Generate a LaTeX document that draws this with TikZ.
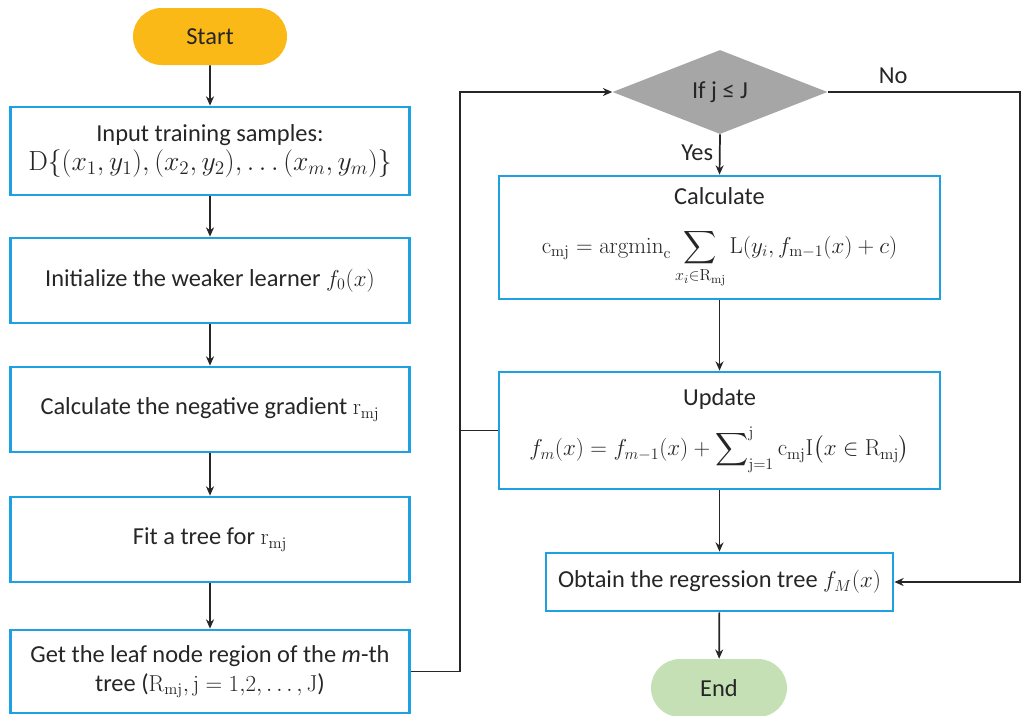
\documentclass[tikz,border=0pt]{standalone}
\usepackage{amsmath}
\usepackage[no-math]{fontspec}
\setmainfont{Carlito}
\usetikzlibrary{shapes.geometric,shapes.misc,arrows.meta}
\definecolor{startc}{HTML}{FBB917}
\definecolor{endc}{HTML}{C5E0B4}
\definecolor{decgray}{HTML}{A6A6A6}
\definecolor{boxblue}{HTML}{1DA1E2}
\definecolor{linec}{HTML}{262626}
\begin{document}
\begin{tikzpicture}[x=0.75pt,y=-0.75pt,
  every node/.style={font=\fontsize{18.3}{22}\selectfont, text=linec},
  box/.style={draw=boxblue, line width=2pt, fill=white, rectangle, inner sep=0pt, align=center},
  term/.style={rounded rectangle, inner sep=0pt, draw=none},
  dec/.style={diamond, fill=decgray, inner sep=0pt},
  arr/.style={-{Stealth[length=7pt,width=6pt]}, line width=1.3pt, draw=linec},
  ln/.style={line width=1.3pt, draw=linec}]
\useasboundingbox (0,0) rectangle (1023,715);
% left column
\node[term, fill=startc, minimum width={154*0.75pt}, minimum height={57*0.75pt}] (start) at (210,36.5) {Start};
\node[box, minimum width={399*0.75pt}, minimum height={88*0.75pt}] (input) at (210,151)
  {Input training samples:\\ {\fontsize{19.6}{22}\selectfont$\mathrm{D}\{(x_1,y_1),(x_2,y_2),\ldots(x_m,y_m)\}$}};
\node[box, minimum width={399*0.75pt}, minimum height={85*0.75pt}] (init) at (210,280.5)
  {Initialize the weaker learner $f_0(x)$};
\node[box, minimum width={399*0.75pt}, minimum height={85*0.75pt}] (neg) at (210,409.5)
  {Calculate the negative gradient $\mathrm{r}_{\mathrm{mj}}$};
\node[box, minimum width={399*0.75pt}, minimum height={85*0.75pt}] (fit) at (210,539.5)
  {Fit a tree for $\mathrm{r}_{\mathrm{mj}}$};
\node[box, minimum width={399*0.75pt}, minimum height={83*0.75pt}] (get) at (210,671.5)
  {Get the leaf node region of the \textit{m}-th\\ tree ($\mathrm{R}_{\mathrm{mj}}, \mathrm{j} = 1{,}2, \ldots, \mathrm{J}$)};
% right column
\node[dec, minimum width={215*0.75pt}, minimum height={84*0.75pt}] (dec) at (720,92) {If j ≤ J};
\node[box, minimum width={441*0.75pt}, minimum height={123*0.75pt}] (calc) at (719.5,237.5)
  {Calculate\\[15pt] {\fontsize{18.8}{22}\selectfont$\displaystyle \mathrm{c}_{\mathrm{mj}} = \mathrm{argmin}_{\mathrm{c}} \sum_{x_i\in \mathrm{R}_{\mathrm{mj}}} \mathrm{L}(y_i, f_{\mathrm{m}-1}(x)+c)$}};
\node[box, minimum width={441*0.75pt}, minimum height={117*0.75pt}] (upd) at (719.5,430.5)
  {Update\\[12pt] $\displaystyle f_m(x) = f_{m-1}(x) + \sum\nolimits_{\mathrm{j}=1}^{\mathrm{j}} \mathrm{c}_{\mathrm{mj}}\mathrm{I}\bigl(x\in\mathrm{R}_{\mathrm{mj}}\bigr)$};
\node[box, minimum width={347*0.75pt}, minimum height={58*0.75pt}] (obt) at (719.5,582)
  {Obtain the regression tree $f_M(x)$};
\node[term, fill=endc, minimum width={136*0.75pt}, minimum height={58*0.75pt}] (end) at (719,688) {End};
% helper coordinates
\coordinate (fbx) at (460,0);
\coordinate (nox) at (1020,0);
% connectors
\draw[arr] (start) -- (input);
\draw[arr] (input) -- (init);
\draw[arr] (init) -- (neg);
\draw[arr] (neg) -- (fit);
\draw[arr] (fit) -- (get);
\draw[arr] (get.east) -- (get.east -| fbx) |- (dec.west);
\draw[ln] (upd.west) -- (upd.west -| fbx);
\draw[arr] (dec.south) -- node[left=1pt, pos=0.45] {Yes} (calc.north);
\draw[arr] (calc) -- (upd);
\draw[arr] (upd) -- (obt);
\draw[arr] (obt) -- (end);
\draw[arr] (dec.east) -- node[above=2pt, pos=0.34] {No} (dec.east -| nox) |- (obt.east);
\end{tikzpicture}
\end{document}
